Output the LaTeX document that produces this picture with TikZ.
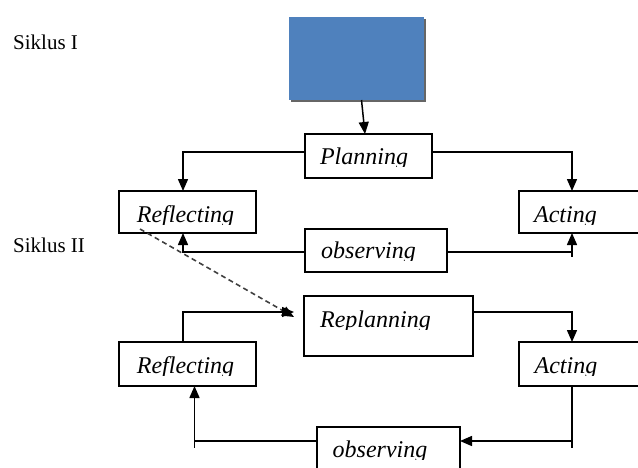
\documentclass[tikz,border=0pt]{standalone}
\usepackage{fontspec}
\setmainfont{Liberation Serif}
\usetikzlibrary{arrows.meta}
\definecolor{blueC}{RGB}{79,129,189}
\begin{document}
\begin{tikzpicture}[x=1pt,y=-1pt,
  box/.style={draw=black, line width=1.5pt, rectangle, inner sep=0pt, outer sep=0pt, fill=white},
  lab/.style={font=\fontsize{24}{28}\selectfont\itshape, inner sep=0pt, anchor=base},
  siklus/.style={font=\fontsize{21}{24}\selectfont, inner sep=0pt, anchor=base west},
  conn/.style={line width=1.5pt, draw=black},
  arr/.style={conn, -{Triangle[length=12pt,width=10pt]}},
  dashedconn/.style={line width=1.6pt, draw=black!75, dash pattern=on 5pt off 3.5pt, -{Triangle[length=12pt,width=10pt,fill=black,color=black]}}
]
\fill[white] (0,0) rectangle (638,467);
\useasboundingbox (0,0) rectangle (638,467);

\node[siklus] (s1) at (13,49) {Siklus I};
\node[siklus] (s2) at (13,252) {Siklus II};

\node[fill=black!60, minimum width=135pt, minimum height=83pt, inner sep=0pt, outer sep=0pt] (shadow) at (358,60.5) {};
\node[fill=blueC, minimum width=135pt, minimum height=83pt, inner sep=0pt, outer sep=0pt] (blue) at (356.5,58.5) {};

\node[box, minimum width=127pt, minimum height=44pt] (plan) at (368.5,156) {};
\node[box, minimum width=137pt, minimum height=42pt] (refl1) at (187.5,212) {};
\node[box, minimum width=126pt, minimum height=42pt] (act1) at (582,212) {};
\node[box, minimum width=142pt, minimum height=43pt] (obs1) at (376,250.5) {};
\node[box, minimum width=169pt, minimum height=60pt] (replan) at (388.5,326) {};
\node[box, minimum width=137pt, minimum height=44pt] (refl2) at (187.5,364) {};
\node[box, minimum width=126pt, minimum height=44pt] (act2) at (582,364) {};
\node[box, minimum width=143pt, minimum height=43pt] (obs2) at (388.5,448.5) {};

\begin{scope}\clip (305,134) rectangle (432,166);
\node[lab] (tplan) at (364,164) {Planning};\end{scope}
\begin{scope}\clip (119,191) rectangle (256,224);
\node[lab] (trefl1) at (185.5,222) {Reflecting};\end{scope}
\begin{scope}\clip (519,191) rectangle (638,224);
\node[lab] (tact1) at (565.5,222) {Acting};\end{scope}
\begin{scope}\clip (305,229) rectangle (447,260);
\node[lab] (tobs1) at (368.5,258) {observing};\end{scope}
\begin{scope}\clip (304,296) rectangle (473,329);
\node[lab] (treplan) at (375.5,327) {Replanning};\end{scope}
\begin{scope}\clip (119,342) rectangle (256,375);
\node[lab] (trefl2) at (185.5,373) {Reflecting};\end{scope}
\begin{scope}\clip (519,342) rectangle (638,375);
\node[lab] (tact2) at (566,373) {Acting};\end{scope}
\begin{scope}\clip (317,427) rectangle (460,459);
\node[lab] (tobs2) at (380,457) {observing};\end{scope}

\draw[arr] ([xshift=5pt]blue.south) -- ([xshift=-3.5pt]plan.north);
\draw[arr] ([yshift=4pt]plan.west) -| ([xshift=-4.5pt]refl1.north);
\draw[arr] ([yshift=4pt]plan.east) -| ([xshift=-10pt]act1.north);
\draw[arr] ([yshift=-1.5pt]obs1.west) -| ([xshift=-4.5pt]refl1.south);
\draw[arr] ([yshift=-1.5pt]obs1.east) -| ([xshift=-10pt]act1.south);
\draw[conn] ([xshift=-10pt,yshift=-19pt]act1.south) -- ++(0,5);

\draw[dashedconn] ([xshift=21pt,yshift=4pt]refl1.south west) -- ([xshift=-10pt,yshift=9pt]replan.west);

\draw[arr] ([xshift=-4.5pt]refl2.north) |- ([xshift=-10pt,yshift=14pt]replan.west);
\draw[arr] ([yshift=14pt]replan.east) -| ([xshift=-10pt]act2.north);
\draw[arr] ([xshift=-10pt]act2.south) |- ([yshift=7.5pt]obs2.east);
\draw[conn] ([xshift=-10pt,yshift=-55pt]act2.south) -- ++(0,7);
\draw[arr] ([yshift=7.5pt]obs2.west) -| ([xshift=7pt]refl2.south);
\draw[conn] ([xshift=7pt,yshift=-55pt]refl2.south) -- ++(0,7);
\end{tikzpicture}
\end{document}
